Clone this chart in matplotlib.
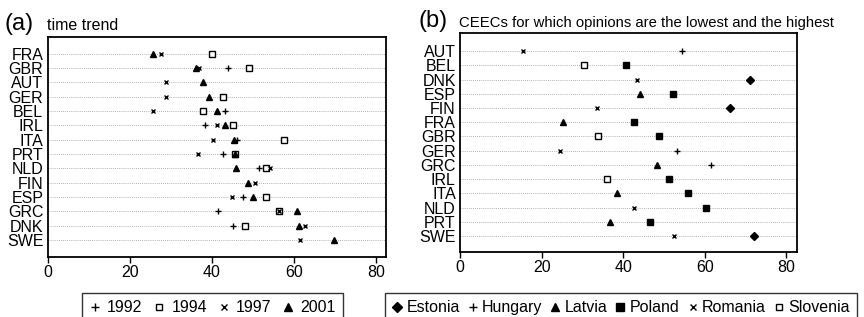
import numpy as np
import matplotlib
matplotlib.use("Agg")
import matplotlib.pyplot as plt
from matplotlib.lines import Line2D

plt.rcParams["font.family"] = ["Liberation Sans", "DejaVu Sans"]

nan = np.nan

# -----------------------------
# Panel (a): time trend
# -----------------------------
countries_a = ["FRA", "GBR", "AUT", "GER", "BEL", "IRL", "ITA",
               "PRT", "NLD", "FIN", "ESP", "GRC", "DNK", "SWE"]
y1992 = [40.0, 44.0, nan, 42.7, 43.2, 38.3, 46.3, 42.7, 51.5, nan, 47.6, 41.5, 45.3, nan]
y1994 = [40.1, 49.0, nan, 42.7, 37.8, 45.3, 57.6, 45.8, 53.2, nan, 53.2, 56.3, 48.2, nan]
y1997 = [27.7, 37.0, 28.9, 28.9, 25.8, 41.2, 40.4, 36.7, 54.1, 50.6, 44.9, 56.3, 62.8, 61.5]
y2001 = [25.6, 36.2, 38.0, 39.3, 41.4, 43.3, 45.5, 45.8, 46.0, 48.8, 50.1, 60.7, 61.2, 69.7]

# -----------------------------
# Panel (b): lowest / highest CEEC
# -----------------------------
countries_b = ["AUT", "BEL", "DNK", "ESP", "FIN", "FRA", "GBR",
               "GER", "GRC", "IRL", "ITA", "NLD", "PRT", "SWE"]
estonia  = [nan, nan, 71.0, nan, 66.1, nan, nan, nan, nan, nan, nan, nan, nan, 72.0]
hungary  = [54.4, nan, nan, nan, nan, nan, nan, 53.2, 61.5, nan, nan, nan, nan, nan]
latvia   = [nan, nan, nan, 44.2, nan, 25.2, nan, nan, 48.3, nan, 38.4, nan, 36.7, nan]
poland   = [nan, 40.7, nan, 52.3, nan, 42.7, 48.7, nan, nan, 51.3, 55.8, 60.4, 46.5, nan]
romania  = [15.5, nan, 43.3, nan, 33.6, nan, nan, 24.4, nan, nan, nan, 42.7, nan, 52.5]
slovenia = [nan, 30.4, nan, nan, nan, nan, 33.7, nan, nan, 35.9, nan, nan, nan, nan]

FS = 11.5

# marker styles: (marker, size, filled)
styles_a = {
    "1992": ("+", 4.5, True),
    "1994": ("s", 3.8, False),
    "1997": ("x", 3.0, True),
    "2001": ("^", 5.0, True),
}
styles_b = {
    "Estonia": ("D", 4.5, True),
    "Hungary": ("+", 4.5, True),
    "Latvia": ("^", 5.0, True),
    "Poland": ("s", 4.2, True),
    "Romania": ("x", 3.0, True),
    "Slovenia": ("s", 3.8, False),
}


def draw_marks(ax, vals, ypos, style):
    m, ms, filled = style
    ax.plot(vals, ypos, linestyle="none", marker=m, markersize=ms,
            color="black", markerfacecolor="black" if filled else "white",
            markeredgewidth=1.0, zorder=3)


def setup_axes(ax, labels, ylim):
    n = len(labels)
    ypos = np.arange(n)[::-1]
    for y in ypos:
        ax.axhline(y, color="#999999", linestyle=(0, (1, 1.5)), linewidth=0.6, zorder=1)
    ax.set_yticks(ypos)
    ax.set_yticklabels(labels, fontsize=FS)
    ax.tick_params(axis="y", length=0, pad=3)
    ax.set_xticks([0, 20, 40, 60, 80])
    ax.tick_params(axis="x", labelsize=FS, length=4, width=1.0, pad=2)
    ax.set_xlim(0, 82.5)
    ax.set_ylim(*ylim)
    for s in ax.spines.values():
        s.set_linewidth(1.3)
    return ypos


def legend_handles(styles):
    handles = []
    for name, (m, ms, filled) in styles.items():
        handles.append(Line2D([], [], linestyle="none", marker=m,
                              markersize=ms + 1.0, color="black",
                              markerfacecolor="black" if filled else "white",
                              markeredgewidth=1.0, label=name))
    return handles


fig = plt.figure(figsize=(8.64, 3.17), dpi=100)

# (a)
ax1 = fig.add_axes([0.0550, 0.1902, 0.3918, 0.6921])
ypos_a = setup_axes(ax1, countries_a, (-1.16, 14.135))
for name, vals in zip(["1992", "1994", "1997", "2001"], [y1992, y1994, y1997, y2001]):
    draw_marks(ax1, vals, ypos_a, styles_a[name])

# (b)
ax2 = fig.add_axes([0.5324, 0.2050, 0.3897, 0.6900])
ypos_b = setup_axes(ax2, countries_b, (-1.13, 14.25))
for name, vals in zip(["Estonia", "Hungary", "Latvia", "Poland", "Romania", "Slovenia"],
                      [estonia, hungary, latvia, poland, romania, slovenia]):
    draw_marks(ax2, vals, ypos_b, styles_b[name])

# titles
fig.text(5 / 864, 1 - 30 / 317, "(a)", fontsize=17, va="baseline")
fig.text(47 / 864, 1 - 30 / 317, "time trend", fontsize=FS, va="baseline")
fig.text(419 / 864, 1 - 27 / 317, "(b)", fontsize=17, va="baseline")
fig.text(459 / 864, 1 - 27 / 317, "CEECs for which opinions are the lowest and the highest",
         fontsize=10.75, va="baseline")

# legends
leg_kw = dict(loc="upper center", fontsize=FS, frameon=True,
              fancybox=False, edgecolor="black", borderpad=0.45,
              borderaxespad=0)
leg1 = fig.legend(handles=legend_handles(styles_a), ncol=4,
                  handlelength=0.7, handletextpad=0.4, columnspacing=0.7,
                  bbox_to_anchor=(212.5 / 864, 1 - 293 / 317), **leg_kw)
leg1.get_frame().set_linewidth(1.0)
leg2 = fig.legend(handles=legend_handles(styles_b), ncol=6,
                  handlelength=0.6, handletextpad=0.3, columnspacing=0.5,
                  bbox_to_anchor=(621 / 864, 1 - 293 / 317), **leg_kw)
leg2.get_frame().set_linewidth(1.0)

fig.savefig("out.png", dpi=100)
